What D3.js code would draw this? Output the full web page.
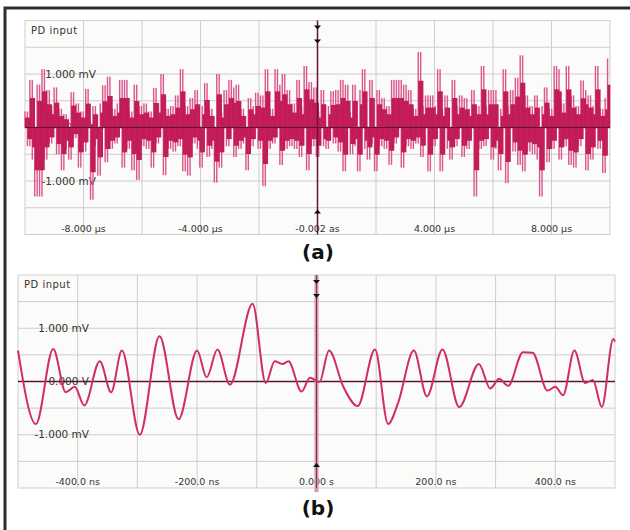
<!DOCTYPE html>
<html>
<head>
<meta charset="utf-8">
<script src="https://cdn.jsdelivr.net/npm/d3@7.9.0/dist/d3.min.js"></script>
<style>
  body { margin: 0; background: #fff; }
  text { font-family: "DejaVu Sans", sans-serif; fill: #333; }
</style>
</head>
<body>
<svg id="chart" width="630" height="530"></svg>
<script>
// panel (a): noise samples in mV, evenly spaced over -10..10 us
const noiseStart = -10;
const noiseEnd = 10;
const noiseValues = [
  0.3, -0.35, 0.89, -0.6, -1.29, 0.8, -1.29, 1.09, -0.6, 0.7,
  -0.3, 0.4, 0.75, -0.5, 0.35, -0.8, 0.25, -0.4, -0.6, 0.66,
  -0.2, 0.45, -0.75, 0.3, -0.45, 0.72, 0.1, -1.35, 0.4, -0.35,
  -0.9, 0.45, 0.79, -0.65, 0.95, -0.4, 0.35, -0.3, 0.45, 0.89,
  -0.75, 0.89, -0.4, 0.3, -0.8, 0.8, -0.98, 0.4, -0.35, 0.45,
  -0.4, 0.3, -0.75, 0.74, -0.3, 0.45, 1.0, -0.89, 0.35, -0.4,
  0.4, -0.45, 0.6, -0.35, 1.09, -0.82, 0.4, -0.9, 0.55, -0.3,
  0.7, -0.4, -0.75, 0.4, 0.83, -0.55, 0.35, -0.4, -1.03, 1.0,
  -0.75, 0.3, 0.7, -0.35, 0.89, 0.75, -0.55, 0.8, -0.4, 0.35,
  -0.3, -0.8, 0.55, -0.35, 0.4, 0.65, -0.4, 0.6, -1.1, 1.09,
  -0.4, 0.35, -0.3, 1.09, 0.8, -0.7, 1.0, -0.4, 0.7, -0.35,
  0.45, -0.4, 0.89, -0.55, 0.4, 1.15, -0.8, 0.85, -0.35, 0.75,
  -0.55, 0.3, 0.7, -0.35, -0.4, 0.4, 0.68, -0.3, 0.7, -0.45,
  0.89, -0.82, 0.8, 0.3, -0.5, 0.8, -0.35, -0.82, 0.7, 1.09,
  -0.4, -0.6, 0.89, -0.3, -0.82, 0.7, -0.35, 0.55, -0.4, 0.4,
  -0.7, 0.89, -0.3, 0.89, 0.89, -0.75, 0.8, -0.35, 0.7, -0.4,
  0.35, -0.3, 1.41, -0.55, 0.4, 0.6, -0.82, 0.6, -0.35, 0.4,
  1.09, -0.82, 0.35, 0.6, -0.4, -0.6, 0.89, -0.35, 0.4, 0.6,
  -0.55, 0.55, -0.4, 0.35, 0.7, -1.29, 0.4, -0.4, 1.15, -0.35,
  0.4, 0.7, -0.6, 0.7, -0.4, -0.8, 0.35, 1.09, -1.04, 0.4,
  0.7, -0.45, 0.93, -0.7, 1.35, -0.82, 0.6, -0.45, 0.4, -0.5,
  0.6, -0.6, -1.29, 0.4, 0.75, -0.65, 0.35, -0.4, 1.15, 1.09,
  -0.6, 0.45, -0.35, 1.15, -0.7, 0.6, -0.75, 0.4, -0.35, 0.88,
  0.7, -0.8, 0.6, -0.6, 0.4, 1.15, -0.4, 0.35, -0.85, 0.55, 1.29
];

// panel (b): filtered signal, time in ns, value in mV
const waveTimes = [
  -500, -470, -441, -420, -405, -389, -363, -344, -326, -296,
  -263, -231, -200, -184, -166, -145, -107, -85, -70, -57,
  -47, -25, -11, 5, 21, 45, 69, 98, 120, 137,
  163, 185, 211, 239, 272, 291, 306, 321, 346, 362,
  387, 400, 413, 432, 450, 463, 478, 497, 500
];
const waveValues = [
  0.58, -0.8, 0.61, -0.2, -0.1, -0.45, 0.38, -0.2, 0.58, -1.0,
  0.85, -0.71, 0.58, 0.08, 0.6, -0.06, 1.46, -0.03, 0.38, 0.33,
  0.38, -0.19, 0.07, -0.01, 0.58, -0.1, -0.46, 0.6, -0.8, -0.39,
  0.58, -0.28, 0.6, -0.48, 0.33, -0.13, 0.05, -0.08, 0.55, 0.54,
  -0.17, -0.1, -0.26, 0.58, -0.03, 0.03, -0.48, 0.8, 0.75
];

const panelA = {
  left: 25, right: 610, top: 20.5, bottom: 234.5,
  xDomain: [-10, 10], xStep: 2,
  xTicks: [-8, -4, 0, 4, 8],
  xLabels: ['-8.000 µs', '-4.000 µs', '-0.002 as', '4.000 µs', '8.000 µs']
};
const panelB = {
  left: 18, right: 615, top: 275, bottom: 488,
  xDomain: [-500, 500], xStep: 100,
  xTicks: [-400, -200, 0, 200, 400],
  xLabels: ['-400.0 ns', '-200.0 ns', '0.000 s', '200.0 ns', '400.0 ns']
};
const yTicks = [1, 0, -1];
const yLabels = ['1.000 mV', '0.000 V', '-1.000 mV'];

const svg = d3.select('#chart');

// outer frame (left and top edges)
svg.append('path')
  .attr('d', 'M5,530V8H630')
  .attr('fill', 'none')
  .attr('stroke', '#2e2e2e')
  .attr('stroke-width', 3);

function drawPanel(p) {
  const x = d3.scaleLinear().domain(p.xDomain).range([p.left, p.right]);
  const y = d3.scaleLinear().domain([-2, 2]).range([p.bottom, p.top]);
  const g = svg.append('g');

  g.append('rect')
    .attr('x', p.left).attr('y', p.top)
    .attr('width', p.right - p.left).attr('height', p.bottom - p.top)
    .attr('fill', '#fbfbf9')
    .attr('stroke', '#cfcfcf');

  g.selectAll('.vgrid')
    .data(d3.range(p.xDomain[0] + p.xStep, p.xDomain[1], p.xStep))
    .join('line')
    .attr('x1', d => x(d)).attr('x2', d => x(d))
    .attr('y1', p.top).attr('y2', p.bottom)
    .attr('stroke', '#cdcdcd');

  g.selectAll('.hgrid')
    .data(d3.range(-1.5, 2, 0.5))
    .join('line')
    .attr('x1', p.left).attr('x2', p.right)
    .attr('y1', d => y(d)).attr('y2', d => y(d))
    .attr('stroke', '#cdcdcd');

  g.append('text')
    .attr('x', p.left + 6).attr('y', p.top + 13)
    .attr('font-size', 10)
    .attr('letter-spacing', 0.5)
    .text('PD input');

  g.selectAll('.ylab')
    .data(yTicks)
    .join('text')
    .attr('x', p.left + 71)
    .attr('y', d => y(d))
    .attr('dy', '0.35em')
    .attr('text-anchor', 'end')
    .attr('font-size', 10.5)
    .text((d, i) => yLabels[i]);

  g.selectAll('.xlab')
    .data(p.xTicks)
    .join('text')
    .attr('x', d => x(d))
    .attr('y', p.bottom - 6)
    .attr('dy', '0.35em')
    .attr('text-anchor', 'middle')
    .attr('font-size', 9.5)
    .text((d, i) => p.xLabels[i]);

  return { x, y, g };
}

function drawCursor(p, x, y, g, wide) {
  const cx = x(0);
  if (wide) {
    g.append('line')
      .attr('x1', cx).attr('x2', cx)
      .attr('y1', p.top).attr('y2', p.bottom + 4)
      .attr('stroke', '#cf98ab').attr('stroke-width', 4);
  }
  g.append('line')
    .attr('x1', cx).attr('x2', cx)
    .attr('y1', p.top).attr('y2', p.bottom)
    .attr('stroke', wide ? '#8a2e52' : '#6a1034')
    .attr('stroke-width', wide ? 1 : 1.5);

  const marks = [
    { yy: p.top + 7, dir: 1 },
    { yy: p.top + 21, dir: 1 },
    { yy: p.bottom - 23, dir: -1 }
  ];
  g.selectAll('.mark')
    .data(marks)
    .join('path')
    .attr('d', d => `M${cx - 3.5},${d.yy - 2 * d.dir}L${cx + 3.5},${d.yy - 2 * d.dir}L${cx},${d.yy + 2 * d.dir}Z`)
    .attr('fill', '#111');
}

// panel (a)
const a = drawPanel(panelA);
const noiseT = d3.scaleLinear().domain([0, noiseValues.length]).range([noiseStart, noiseEnd]);
const colW = a.x(noiseT(1)) - a.x(noiseT(0));

// each screen column spans the step from the previous sample to this one
const columns = noiseValues.map((v, i) => {
  const prev = i > 0 ? noiseValues[i - 1] : v;
  return { i, lo: Math.min(prev, v, 0), hi: Math.max(prev, v, 0) };
});
const core = 0.62; // the dense, overlapping part of the trace

a.g.append('line')
  .attr('x1', panelA.left).attr('x2', panelA.right)
  .attr('y1', a.y(0)).attr('y2', a.y(0))
  .attr('stroke', '#5a1430').attr('stroke-width', 1.5);

a.g.selectAll('.spike')
  .data(columns)
  .join('rect')
  .attr('x', d => a.x(noiseT(d.i)) - 0.7)
  .attr('width', 1.4)
  .attr('y', d => a.y(d.hi))
  .attr('height', d => a.y(d.lo) - a.y(d.hi))
  .attr('fill', '#dc558d');

a.g.selectAll('.body')
  .data(columns)
  .join('rect')
  .attr('x', d => a.x(noiseT(d.i)))
  .attr('width', colW + 0.3)
  .attr('y', d => a.y(d.hi * core))
  .attr('height', d => a.y(d.lo * core) - a.y(d.hi * core))
  .attr('fill', '#c21c57');

a.g.append('line')
  .attr('x1', panelA.left).attr('x2', panelA.right)
  .attr('y1', a.y(0)).attr('y2', a.y(0))
  .attr('stroke', '#5a1430').attr('stroke-width', 1);

drawCursor(panelA, a.x, a.y, a.g, false);

// panel (b)
const b = drawPanel(panelB);

b.g.append('line')
  .attr('x1', panelB.left).attr('x2', panelB.right)
  .attr('y1', b.y(0)).attr('y2', b.y(0))
  .attr('stroke', '#5a1430').attr('stroke-width', 1.5);

drawCursor(panelB, b.x, b.y, b.g, true);

b.g.append('path')
  .datum(waveTimes.map((t, i) => [t, waveValues[i]]))
  .attr('fill', 'none')
  .attr('stroke', '#d02c6a')
  .attr('stroke-width', 2)
  .attr('d', d3.line()
    .curve(d3.curveMonotoneX)
    .x(d => b.x(d[0]))
    .y(d => b.y(d[1])));

// panel captions
svg.selectAll('.cap')
  .data(['(a)', '(b)'])
  .join('text')
  .attr('x', 318)
  .attr('y', (d, i) => i === 0 ? 259 : 515)
  .attr('text-anchor', 'middle')
  .attr('font-family', '"Liberation Sans", Arial, sans-serif')
  .attr('font-weight', 'bold')
  .attr('font-size', 20)
  .style('fill', '#111')
  .text(d => d);
</script>
</body>
</html>
